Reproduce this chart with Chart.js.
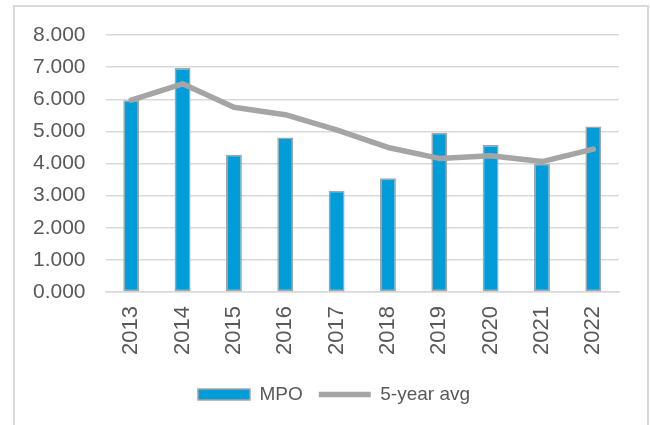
<!DOCTYPE html>
<html lang="en">
<head>
    <meta charset="UTF-8">
    <title>MPO</title>
    <script src="https://cdn.jsdelivr.net/npm/chart.js"></script>
    <style>
        html, body {
            margin: 0;
            padding: 0;
            background: #ffffff;
            overflow: hidden;
        }
        .frame {
            position: absolute;
            left: 13px;
            top: 5px;
            width: 632px;
            height: 440px;
            border: 2px solid #d9d9d9;
        }
        #chart {
            position: absolute;
            left: 0;
            top: 0;
        }
    </style>
</head>
<body>
<div class="frame"></div>
<canvas id="chart" width="650" height="425"></canvas>

<script>
    const years = ['2013', '2014', '2015', '2016', '2017', '2018', '2019', '2020', '2021', '2022'];
    const mpo = [5.97, 6.97, 4.27, 4.81, 3.15, 3.54, 4.96, 4.58, 3.99, 5.15];
    const avg5 = [5.97, 6.48, 5.75, 5.52, 5.05, 4.50, 4.16, 4.24, 4.06, 4.45];
    const yTicks = [0, 1, 2, 3, 4, 5, 6, 7, 8];

    const textColor = '#595959';
    const gridColor = '#d9d9d9';
    const fontFamily = "'Liberation Sans', Arial, sans-serif";

    // nudge the legend a little to the right of the canvas centre
    const legendShift = {
        id: 'legendShift',
        afterLayout(chart) {
            chart.legend.left += 18;
            chart.legend.right += 18;
        }
    };

    const ctx = document.getElementById('chart').getContext('2d');
    const myChart = new Chart(ctx, {
        data: {
            labels: years,
            datasets: [{
                type: 'bar',
                label: 'MPO',
                data: mpo,
                backgroundColor: '#009dd9',
                borderColor: '#a5a5a5',
                borderWidth: 1.5,
                borderSkipped: false,
                barPercentage: 0.62,
                categoryPercentage: 0.5,
                pointStyle: 'rect',
                order: 1
            }, {
                type: 'line',
                label: '5-year avg',
                data: avg5,
                borderColor: '#a5a5a5',
                backgroundColor: '#a5a5a5',
                borderWidth: 5.5,
                borderCapStyle: 'round',
                borderJoinStyle: 'round',
                pointRadius: 0,
                pointHoverRadius: 0,
                tension: 0,
                pointStyle: 'line',
                order: 0
            }]
        },
        options: {
            responsive: false,
            animation: false,
            layout: {
                padding: { left: 13, right: 31, top: 35, bottom: 11 }
            },
            scales: {
                x: {
                    grid: { display: false, drawTicks: false },
                    border: { display: true, color: gridColor, width: 1.5 },
                    ticks: {
                        color: textColor,
                        font: { family: fontFamily, size: 22 },
                        minRotation: 90,
                        maxRotation: 90,
                        padding: 14
                    }
                },
                y: {
                    min: 0,
                    max: 8,
                    afterBuildTicks(scale) {
                        scale.ticks = yTicks.map(v => ({ value: v }));
                    },
                    grid: { color: gridColor, lineWidth: 1.5, drawTicks: false },
                    border: { display: false },
                    ticks: {
                        color: textColor,
                        font: { family: fontFamily, size: 21 },
                        padding: 20,
                        callback: v => Number(v).toFixed(3)
                    }
                }
            },
            plugins: {
                tooltip: { enabled: false },
                legend: {
                    position: 'bottom',
                    labels: {
                        color: textColor,
                        font: { family: fontFamily, size: 19 },
                        usePointStyle: true,
                        pointStyleWidth: 52,
                        boxHeight: 11,
                        padding: 16,
                        sort: (a, b) => a.datasetIndex - b.datasetIndex
                    }
                }
            }
        },
        plugins: [legendShift]
    });
</script>
</body>
</html>
